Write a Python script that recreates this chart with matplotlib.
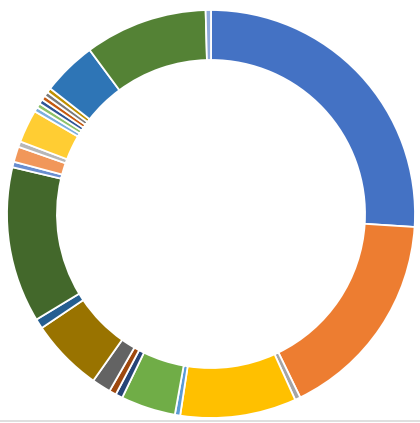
import matplotlib
matplotlib.use('Agg')
import matplotlib.pyplot as plt
from matplotlib.lines import Line2D

# share of each slice (percent), clockwise from 12 o'clock
shares = [26.02, 16.78, 0.44, 9.19, 0.42, 4.33, 0.56, 0.56, 1.50, 5.78,
          0.78, 12.34, 0.44, 1.22, 0.44, 2.61, 0.36, 0.36, 0.36, 0.36,
          0.36, 0.36, 4.31, 9.72, 0.42]
colors = ['#4472C4', '#ED7D31', '#A5A5A5', '#FFC000', '#5B9BD5', '#70AD47',
          '#264478', '#9E480E', '#636363', '#997300', '#255E91', '#43682B',
          '#698ED0', '#F1975A', '#B7B7B7', '#FFCD33', '#7CAFDD', '#8CC168',
          '#2F5597', '#C55A11', '#7B7B7B', '#BF9000', '#2E75B6', '#548235',
          '#8FAADC']

fig = plt.figure(figsize=(4.2, 4.23), dpi=100)
# square axes placed so the ring centre sits at (211, 214) px, radius 204 px
ax = fig.add_axes([7 / 420, 5 / 423, 408 / 420, 408 / 423])
ax.pie(shares, colors=colors, startangle=90, counterclock=False, radius=1,
       wedgeprops=dict(width=0.245, edgecolor='white', linewidth=1.3))
ax.set_xlim(-1, 1)
ax.set_ylim(-1, 1)
ax.set_aspect('equal')
ax.axis('off')

# thin grey frame line at the bottom
fig.add_artist(Line2D([0, 1], [2.5 / 423, 2.5 / 423], color='#D9D9D9',
                      linewidth=1.2, transform=fig.transFigure))

fig.savefig('out.png', dpi=100)
